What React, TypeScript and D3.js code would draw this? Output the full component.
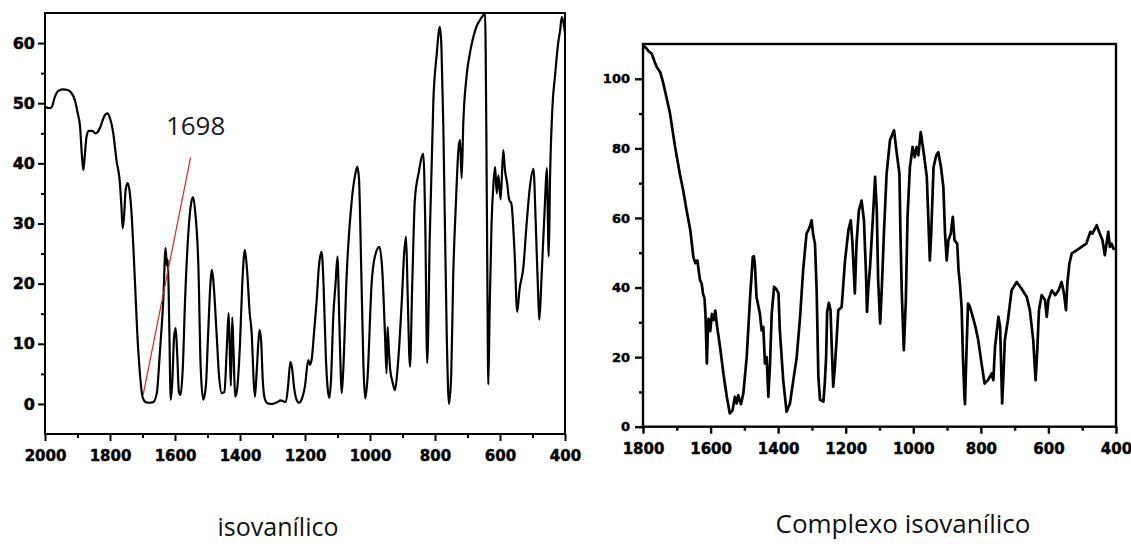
import React, { useEffect, useRef } from "react";
import * as d3 from "d3";

// IR spectrum of the isovanillic ligand: [wavenumber (cm-1), transmittance (%)]
const isovanilicoSpectrum: [number, number][] = [
  [2000, 49.4], [1990, 49.2], [1980, 49.3], [1970, 51], [1960, 52], [1945, 52.3], [1930, 52.2],
  [1920, 51.8], [1908, 50.5], [1900, 48.5], [1892, 46], [1886, 41], [1882, 38.9], [1878, 41],
  [1872, 44.5], [1865, 45.4], [1855, 45.4], [1845, 45.0], [1838, 45.2], [1828, 46.3], [1818, 47.8],
  [1808, 48.3], [1800, 47.5], [1790, 45], [1780, 40.5], [1770, 37], [1765, 33], [1761, 29.2],
  [1757, 31], [1752, 35.5], [1746, 36.7], [1740, 35.5], [1733, 31.1], [1728, 26], [1723, 20],
  [1716, 11.7], [1708, 5.1], [1700, 1.2], [1690, 0.3], [1680, 0.2], [1667, 0.3], [1656, 1.8],
  [1646, 9], [1636, 17.3], [1629, 25.9], [1625, 23], [1622, 24], [1618, 14], [1613, 0.7],
  [1608, 4], [1603, 11], [1598, 12.6], [1593, 8], [1588, 2], [1583, 1.5], [1576, 6],
  [1569, 17.3], [1559, 28.4], [1550, 33.5], [1544, 34.4], [1538, 32], [1528, 22.8], [1521, 6.2],
  [1513, 0.7], [1505, 3], [1498, 11.7], [1491, 20], [1487, 22.3], [1483, 21], [1472, 11.7],
  [1465, 5], [1456, 1.8], [1448, 2], [1440, 10], [1435, 15.1], [1431, 8], [1428, 3],
  [1424, 14.4], [1420, 9], [1415, 1.2], [1410, 2], [1400, 10], [1393, 20], [1385, 25.6],
  [1378, 22], [1370, 15], [1364, 11.7], [1358, 4], [1354, 1.2], [1348, 6], [1340, 12.3],
  [1335, 10.5], [1330, 4], [1323, 0.7], [1315, 0.1], [1300, 0], [1285, 0.3], [1275, 0.6],
  [1265, 0.4], [1259, 0.3], [1252, 3], [1245, 7], [1240, 6], [1233, 2.5], [1226, 0.7],
  [1218, 0.2], [1210, 0.8], [1200, 3], [1190, 7.3], [1185, 6.5], [1179, 7.6], [1172, 12],
  [1164, 17.3], [1157, 23], [1149, 25.3], [1143, 20], [1136, 8], [1131, 3], [1125, 1],
  [1120, 4], [1113, 14.5], [1106, 20], [1100, 24.5], [1095, 15], [1090, 5], [1087, 1.8],
  [1082, 6], [1072, 21.1], [1056, 33.9], [1046, 38], [1039, 39.4], [1034, 37.5], [1026, 20],
  [1020, 6], [1015, 0.9], [1008, 4], [995, 20], [985, 24.5], [971, 26.1], [962, 22],
  [954, 11.7], [949, 5.1], [946, 12.8], [942, 9], [938, 5.8], [930, 3.5], [923, 2.3],
  [915, 6], [902, 17.3], [895, 25], [889, 27.8], [884, 18], [877, 6.2], [870, 20],
  [862, 33.9], [850, 38.5], [836, 41.6], [830, 30], [824, 6.8], [816, 28], [805, 50.5],
  [795, 58], [785, 62.7], [780, 59], [774, 45], [764, 11.7], [757, 0], [750, 5],
  [744, 21.1], [736, 33], [728, 42.2], [723, 43.9], [718, 37.5], [713, 46.6], [703, 54.4],
  [692, 58.5], [682, 61], [672, 62.8], [662, 63.8], [652, 64.6], [646, 65], [642, 45],
  [639, 22], [636, 3.2], [632, 15], [626, 30], [620, 36.7], [615, 39.4], [610, 35],
  [605, 38], [598, 34], [590, 42.2], [585, 39], [578, 36.7], [572, 34], [565, 33.3],
  [555, 25], [547, 15.3], [540, 19], [528, 22.8], [518, 30], [508, 36.1], [497, 39.1],
  [490, 30], [482, 17.3], [479, 14], [473, 20], [467, 27.2], [462, 33], [456, 39.2],
  [450, 24.5], [446, 37.6], [438, 50], [431, 54.4], [421, 60], [415, 62.1], [410, 64.3],
  [405, 63.5], [400, 61.6],
];

// IR spectrum of the isovanillic complex: [wavenumber (cm-1), transmittance (%)]
const complexoSpectrum: [number, number][] = [
  [1800, 109.6], [1790, 108.8], [1784, 108], [1774, 107.2], [1766, 105], [1759, 103.3],
  [1749, 101.9], [1742, 99.5], [1735, 96.6], [1720, 90], [1705, 80.4], [1691, 72.7],
  [1681, 67.9], [1671, 62.2], [1660, 56.5], [1651, 48.8], [1645, 47], [1639, 47.8],
  [1634, 44], [1631, 42.1], [1626, 41], [1622, 38], [1618, 37], [1615, 32], [1611, 18.2],
  [1608, 28], [1606, 31], [1601, 27.5], [1596, 32.4], [1591, 30.6], [1586, 33.4], [1581, 29],
  [1572, 23], [1562, 15.3], [1552, 8.6], [1543, 3.8], [1535, 4.7], [1528, 8.6], [1523, 6.7],
  [1518, 9], [1510, 6.5], [1503, 9.6], [1493, 20], [1483, 37.3], [1475, 48.8], [1472, 49],
  [1469, 46.9], [1464, 37.3], [1454, 32.5], [1449, 27.7], [1444, 28.7], [1439, 18.2],
  [1434, 20], [1429, 8.6], [1424, 18.2], [1419, 32.5], [1412, 40.2], [1405, 39.5],
  [1399, 38.3], [1395, 27.7], [1385, 13.4], [1375, 4.3], [1365, 6.7], [1355, 13.4],
  [1345, 20], [1335, 31.6], [1326, 45], [1316, 55.5], [1308, 57], [1301, 59.3], [1296, 55],
  [1291, 52.6], [1286, 39.2], [1281, 14.4], [1276, 7.7], [1266, 7.2], [1262, 12.4],
  [1258, 20], [1255, 33], [1250, 35.6], [1245, 33.5], [1242, 24.9], [1237, 11.5],
  [1232, 17.3], [1227, 25], [1222, 33.5], [1212, 34.4], [1202, 47.8], [1192, 56.5],
  [1185, 59.3], [1180, 52.6], [1173, 38.3], [1168, 52.6], [1161, 62.2], [1153, 65],
  [1146, 59.3], [1140, 44], [1137, 33], [1133, 40], [1128, 45.9], [1120, 59.3],
  [1113, 71.8], [1108, 62.2], [1104, 42.1], [1098, 29.7], [1093, 40.2], [1087, 55.5],
  [1079, 72.7], [1069, 82.3], [1057, 85.2], [1050, 79.4], [1041, 72.7], [1038, 55.5],
  [1034, 38.3], [1028, 22], [1022, 36.4], [1017, 60.3], [1010, 74.6], [1002, 80.4],
  [996, 77.5], [990, 80.4], [985, 78], [978, 84.7], [970, 79.4], [960, 71.8], [951, 47.8],
  [947, 55.5], [940, 74.6], [932, 78], [926, 78.9], [918, 74.6], [911, 68.9], [906, 55.5],
  [901, 47.8], [896, 53.6], [889, 55.5], [883, 60.3], [878, 53.6], [870, 52.6], [866, 45],
  [862, 41.1], [857, 34.4], [853, 20], [849, 9.6], [847, 6.5], [843, 20], [838, 35.4],
  [833, 34.6], [825, 32], [816, 28.7], [808, 25], [798, 18.2], [789, 12.4], [779, 13.4],
  [768, 15.3], [763, 13.4], [758, 23], [748, 31.6], [743, 28.7], [737, 6.7], [733, 15],
  [729, 24.9], [720, 30.6], [709, 39.2], [694, 41.6], [680, 39.7], [664, 37.3], [655, 33.5],
  [645, 24.9], [638, 13.4], [633, 22], [628, 33.5], [620, 37.8], [610, 36.4], [605, 31.6],
  [600, 36.4], [590, 39.2], [580, 37.8], [570, 39.2], [561, 41.6], [554, 38.3], [548, 33.5],
  [544, 41.1], [538, 46.9], [531, 49.8], [517, 50.7], [502, 51.7], [488, 52.6], [476, 56],
  [470, 55.5], [457, 57.9], [448, 55.5], [440, 53.6], [433, 49.3], [428, 52.6], [423, 56],
  [418, 51.7], [413, 52.6], [408, 51.2], [400, 51],
];

const leftXTicks = [2000, 1800, 1600, 1400, 1200, 1000, 800, 600, 400];
const leftXMinor = [1900, 1700, 1500, 1300, 1100, 900, 700, 500];
const leftYTicks = [0, 10, 20, 30, 40, 50, 60];
const leftYMinor = [5, 15, 25, 35, 45, 55];

const rightXTicks = [1800, 1600, 1400, 1200, 1000, 800, 600, 400];
const rightXMinor = [1700, 1500, 1300, 1100, 900, 700, 500];
const rightYTicks = [0, 20, 40, 60, 80, 100];
const rightYMinor = [10, 30, 50, 70, 90];

// the 1698 cm-1 band pointer
const bandLabel = "1698";
const bandPointerFrom: [number, number] = [1698, 1.5];
const bandPointerTo: [number, number] = [1552, 41];
const bandLabelAt: [number, number] = [1628, 44.7];

type PanelOpts = {
  data: [number, number][];
  xDomain: [number, number];
  yDomain: [number, number];
  box: { left: number; right: number; top: number; bottom: number };
  xTicks: number[];
  xMinor: number[];
  yTicks: number[];
  yMinor: number[];
  xFont: number;
  yFont: number;
  xPad: number;
  yTick: number;
  yPad: number;
  frameWidth: number;
  lineWidth: number;
  curve: d3.CurveFactory;
};

function drawPanel(svg: d3.Selection<SVGSVGElement, unknown, null, undefined>, o: PanelOpts) {
  const { left, right, top, bottom } = o.box;
  const x = d3.scaleLinear().domain(o.xDomain).range([left, right]);
  const y = d3.scaleLinear().domain(o.yDomain).range([bottom, top]);
  const g = svg.append("g");

  const styleAxis = (sel: d3.Selection<SVGGElement, unknown, null, undefined>, size: number) => {
    sel.select(".domain").remove();
    sel.attr("font-family", "'DejaVu Sans', sans-serif").attr("font-size", size).attr("font-weight", "bold");
    sel.selectAll("line").attr("stroke", "#000").attr("stroke-width", o.frameWidth);
    sel.selectAll("text").attr("fill", "#000").attr("stroke", "#000").attr("stroke-width", 0.45);
  };

  // bottom axis: labelled major ticks plus short minor ticks
  const gx = g.append("g").attr("transform", `translate(0,${bottom})`);
  gx.call(d3.axisBottom(x).tickValues(o.xTicks).tickSize(7).tickPadding(o.xPad).tickFormat(d3.format("d")) as any);
  styleAxis(gx, o.xFont);
  const gxm = g.append("g").attr("transform", `translate(0,${bottom})`);
  gxm.call(d3.axisBottom(x).tickValues(o.xMinor).tickSize(4).tickFormat(() => "") as any);
  styleAxis(gxm, o.xFont);

  // left axis
  const gy = g.append("g").attr("transform", `translate(${left},0)`);
  gy.call(d3.axisLeft(y).tickValues(o.yTicks).tickSize(o.yTick).tickPadding(o.yPad).tickFormat(d3.format("d")) as any);
  styleAxis(gy, o.yFont);
  const gym = g.append("g").attr("transform", `translate(${left},0)`);
  gym.call(d3.axisLeft(y).tickValues(o.yMinor).tickSize(4).tickFormat(() => "") as any);
  styleAxis(gym, o.yFont);

  // frame
  g.append("rect")
    .attr("x", left)
    .attr("y", top)
    .attr("width", right - left)
    .attr("height", bottom - top)
    .attr("fill", "none")
    .attr("stroke", "#000")
    .attr("stroke-width", o.frameWidth);

  // spectrum trace
  const line = d3
    .line<[number, number]>()
    .x((d) => x(d[0]))
    .y((d) => y(d[1]))
    .curve(o.curve);
  g.append("path")
    .datum(o.data)
    .attr("d", line)
    .attr("fill", "none")
    .attr("stroke", "#000")
    .attr("stroke-width", o.lineWidth)
    .attr("stroke-linejoin", "round");

  return { x, y, g };
}

export default function App() {
  const ref = useRef<SVGSVGElement>(null);

  useEffect(() => {
    const svg = d3.select(ref.current!);
    svg.selectAll("*").remove();

    const leftPanel = drawPanel(svg, {
      data: isovanilicoSpectrum,
      xDomain: [2000, 400],
      yDomain: [-5, 65],
      box: { left: 45, right: 565, top: 13, bottom: 434 },
      xTicks: leftXTicks,
      xMinor: leftXMinor,
      yTicks: leftYTicks,
      yMinor: leftYMinor,
      xFont: 15,
      yFont: 16,
      xPad: 9,
      yTick: 7,
      yPad: 3,
      frameWidth: 2,
      lineWidth: 2.2,
      curve: d3.curveMonotoneX,
    });

    drawPanel(svg, {
      data: complexoSpectrum,
      xDomain: [1800, 400],
      yDomain: [0, 110],
      box: { left: 643, right: 1116, top: 44, bottom: 426.7 },
      xTicks: rightXTicks,
      xMinor: rightXMinor,
      yTicks: rightYTicks,
      yMinor: rightYMinor,
      xFont: 15,
      yFont: 13,
      xPad: 10,
      yTick: 8,
      yPad: 5,
      frameWidth: 2.4,
      lineWidth: 2.7,
      curve: d3.curveLinear,
    });

    const { x, y, g } = leftPanel;
    g.append("line")
      .attr("x1", x(bandPointerFrom[0]))
      .attr("y1", y(bandPointerFrom[1]))
      .attr("x2", x(bandPointerTo[0]))
      .attr("y2", y(bandPointerTo[1]))
      .attr("stroke", "#e02424")
      .attr("stroke-width", 1.2);
    g.append("text")
      .attr("x", x(bandLabelAt[0]))
      .attr("y", y(bandLabelAt[1]))
      .attr("font-family", "'Open Sans', sans-serif")
      .attr("font-size", 26)
      .attr("fill", "#1a1a1a")
      .text(bandLabel);

    svg
      .append("text")
      .attr("x", 278)
      .attr("y", 536)
      .attr("text-anchor", "middle")
      .attr("font-family", "'Open Sans', sans-serif")
      .attr("font-size", 25)
      .attr("fill", "#111")
      .text("isovanílico");
    svg
      .append("text")
      .attr("x", 903)
      .attr("y", 533)
      .attr("text-anchor", "middle")
      .attr("font-family", "'Open Sans', sans-serif")
      .attr("font-size", 26)
      .attr("fill", "#111")
      .text("Complexo isovanílico");
  }, []);

  return (
    <svg
      ref={ref}
      width={1131}
      height={544}
      style={{ position: "absolute", left: 0, top: 0, background: "#fff" }}
    />
  );
}
